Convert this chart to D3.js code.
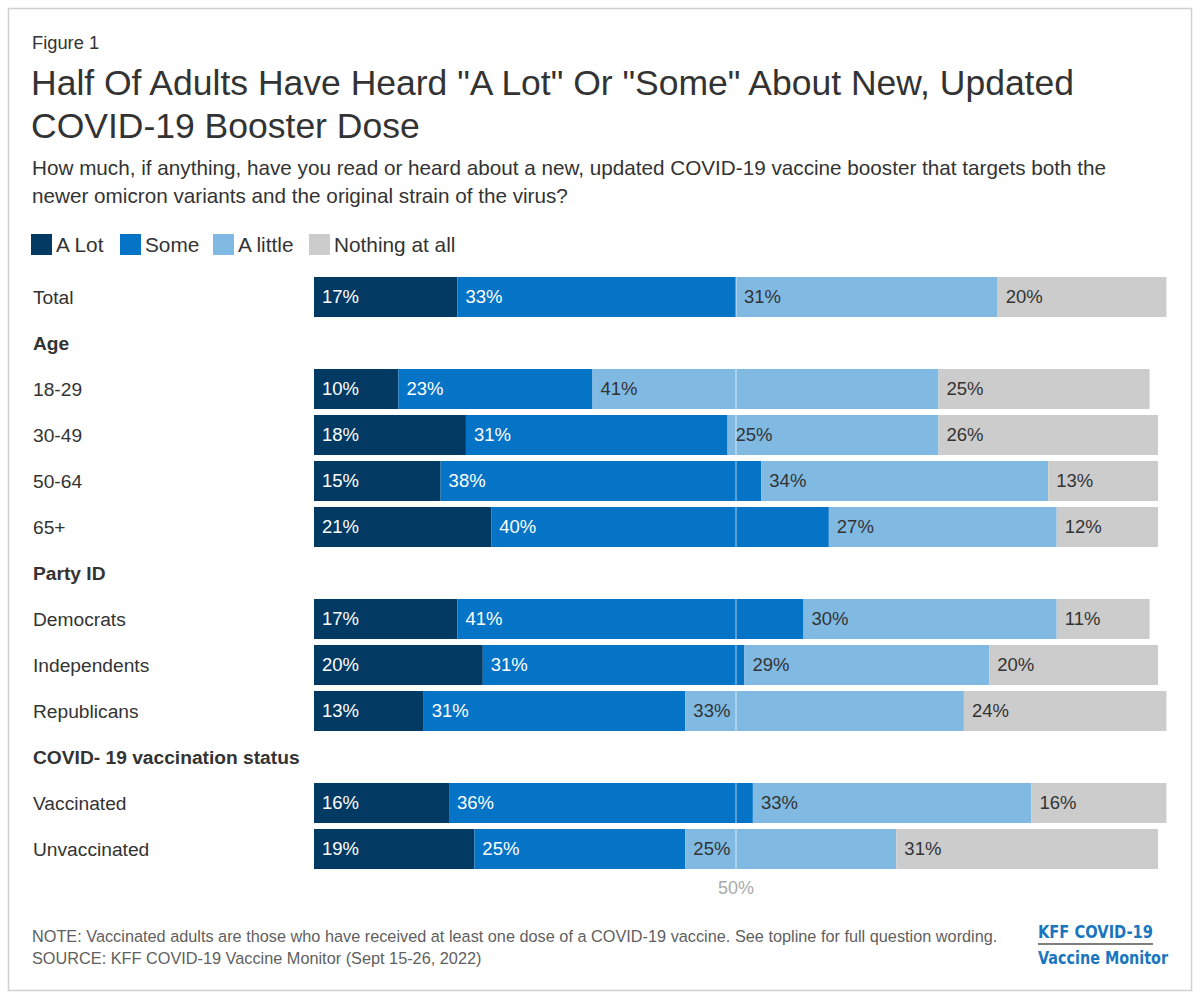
<!DOCTYPE html>
<html>
<head>
<meta charset="utf-8">
<script src="https://cdn.jsdelivr.net/npm/d3@7"></script>
<style>
  body { margin: 0; background: #fff; }
  svg text { font-family: "Liberation Sans", Arial, sans-serif; }
</style>
</head>
<body>
<div id="chart"></div>
<script>
// data
var seriesNames = ["A Lot", "Some", "A little", "Nothing at all"];
var seriesColors = ["#023a64", "#0574c7", "#80bae3", "#cccccc"];
var rowOrder = ["Total", "Age", "18-29", "30-49", "50-64", "65+", "Party ID",
  "Democrats", "Independents", "Republicans", "COVID- 19 vaccination status",
  "Vaccinated", "Unvaccinated"];
var sectionHeaders = ["Age", "Party ID", "COVID- 19 vaccination status"];
var rowLabels = ["Total", "18-29", "30-49", "50-64", "65+", "Democrats",
  "Independents", "Republicans", "Vaccinated", "Unvaccinated"];
var aLot = [17, 10, 18, 15, 21, 17, 20, 13, 16, 19];
var some = [33, 23, 31, 38, 40, 41, 31, 31, 36, 25];
var aLittle = [31, 41, 25, 34, 27, 30, 29, 33, 33, 25];
var nothingAtAll = [20, 25, 26, 13, 12, 11, 20, 24, 16, 31];
var xTicks = [50];

var svgWidth = 1200;
var svgHeight = 1001;

var svg = d3.select("#chart")
  .append("svg")
  .attr("width", svgWidth)
  .attr("height", svgHeight);

// frame
svg.append("rect")
  .attr("x", 8.5).attr("y", 8.5)
  .attr("width", 1183).attr("height", 982)
  .attr("fill", "#fff")
  .attr("stroke", "#d0d0d0")
  .attr("stroke-width", 1.5);

// header texts
svg.append("text").attr("x", 32).attr("y", 49)
  .attr("font-size", 18.3).attr("fill", "#333").text("Figure 1");

var titleLines = ["Half Of Adults Have Heard \"A Lot\" Or \"Some\" About New, Updated",
  "COVID-19 Booster Dose"];
svg.selectAll(".title").data(titleLines).enter().append("text")
  .attr("class", "title")
  .attr("x", 31)
  .attr("y", (d, i) => 95 + i * 43)
  .attr("font-size", 35.5)
  .attr("fill", "#333")
  .text(d => d);

var subLines = ["How much, if anything, have you read or heard about a new, updated COVID-19 vaccine booster that targets both the",
  "newer omicron variants and the original strain of the virus?"];
svg.selectAll(".sub").data(subLines).enter().append("text")
  .attr("class", "sub")
  .attr("x", 32)
  .attr("y", (d, i) => 175 + i * 28)
  .attr("font-size", 20.7)
  .attr("fill", "#333")
  .text(d => d);

// legend
var legendX = [31, 120, 213, 309];
var legend = svg.selectAll(".legend").data(seriesNames).enter().append("g")
  .attr("class", "legend")
  .attr("transform", (d, i) => `translate(${legendX[i]}, 234)`);
legend.append("rect")
  .attr("width", 21).attr("height", 21)
  .attr("fill", (d, i) => seriesColors[i]);
legend.append("text")
  .attr("x", 25).attr("y", 17.5)
  .attr("font-size", 20.8).attr("fill", "#333")
  .text(d => d);

// scales
var x = d3.scaleLinear().domain([0, 100]).range([314, 1158]);
var y = d3.scaleBand()
  .domain(rowOrder)
  .range([274, 872])
  .paddingInner(6 / 46)
  .paddingOuter(3 / 46);

var table = rowLabels.map((r, i) => ({
  row: r, "A Lot": aLot[i], "Some": some[i], "A little": aLittle[i], "Nothing at all": nothingAtAll[i]
}));
var stacked = d3.stack().keys(seriesNames)(table);

// row labels
svg.selectAll(".rowLabel").data(rowOrder).enter().append("text")
  .attr("class", "rowLabel")
  .attr("x", 33)
  .attr("y", d => y(d) + y.bandwidth() / 2)
  .attr("dy", "0.35em")
  .attr("font-size", 19.2)
  .attr("font-weight", d => sectionHeaders.includes(d) ? "bold" : "normal")
  .attr("fill", "#333")
  .text(d => d);

// bars
var layers = svg.selectAll(".layer").data(stacked).enter().append("g")
  .attr("class", "layer")
  .attr("fill", (d, i) => seriesColors[i]);

layers.selectAll("rect").data(d => d).enter().append("rect")
  .attr("x", d => x(d[0]))
  .attr("y", d => y(d.data.row))
  .attr("width", d => x(d[1]) - x(d[0]))
  .attr("height", y.bandwidth());

// 50% reference line
svg.selectAll(".refLine").data(xTicks).enter().append("line")
  .attr("class", "refLine")
  .attr("x1", d => x(d)).attr("x2", d => x(d))
  .attr("y1", y("Total")).attr("y2", y("Unvaccinated") + y.bandwidth())
  .attr("stroke", "#fff")
  .attr("stroke-opacity", 0.55)
  .attr("stroke-width", 1.2);

svg.selectAll(".tickLabel").data(xTicks).enter().append("text")
  .attr("class", "tickLabel")
  .attr("x", d => x(d))
  .attr("y", 894)
  .attr("text-anchor", "middle")
  .attr("font-size", 18)
  .attr("fill", "#aaa")
  .text(d => d + "%");

// value labels
layers.each(function(layer, li) {
  d3.select(this).selectAll("text").data(layer).enter().append("text")
    .attr("x", d => x(d[0]) + 8)
    .attr("y", d => y(d.data.row) + y.bandwidth() / 2)
    .attr("dy", "0.35em")
    .attr("font-size", 18.5)
    .attr("fill", li < 2 ? "#fff" : "#333")
    .text(d => (d[1] - d[0]) + "%");
});

// footnotes
var notes = ["NOTE: Vaccinated adults are those who have received at least one dose of a COVID-19 vaccine. See topline for full question wording.",
  "SOURCE: KFF COVID-19 Vaccine Monitor (Sept 15-26, 2022)"];
svg.selectAll(".note").data(notes).enter().append("text")
  .attr("class", "note")
  .attr("x", 32)
  .attr("y", (d, i) => 942 + i * 22)
  .attr("font-size", 16.3)
  .attr("fill", "#5f5f5f")
  .text(d => d);

// logo
var logo = svg.append("g").attr("transform", "translate(1038, 0)");
logo.append("text").attr("x", 0).attr("y", 938)
  .style("font-family", "'DejaVu Sans', sans-serif")
  .attr("font-weight", "bold").attr("font-size", 18)
  .attr("textLength", 115).attr("lengthAdjust", "spacingAndGlyphs")
  .attr("fill", "#1a75bf").text("KFF COVID-19");
logo.append("line").attr("x1", 0).attr("x2", 115)
  .attr("y1", 944).attr("y2", 944)
  .attr("stroke", "#555").attr("stroke-width", 1.5);
logo.append("text").attr("x", 0).attr("y", 964)
  .style("font-family", "'DejaVu Sans', sans-serif")
  .attr("font-weight", "bold").attr("font-size", 18)
  .attr("textLength", 130).attr("lengthAdjust", "spacingAndGlyphs")
  .attr("fill", "#1a75bf").text("Vaccine Monitor");
</script>
</body>
</html>
